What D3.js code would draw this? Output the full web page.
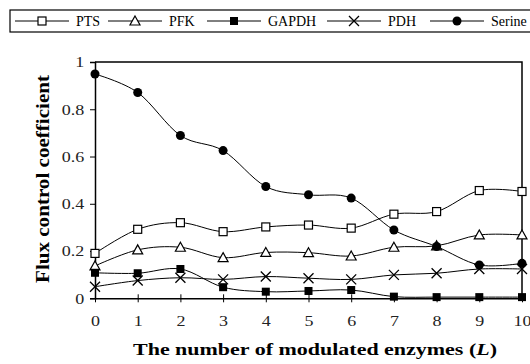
<!DOCTYPE html>
<html>
<head>
<meta charset="utf-8">
<script src="https://cdn.jsdelivr.net/npm/d3@7"></script>
<style>
  body { margin: 0; background: #fff; }
  text { font-family: "Liberation Serif", "Times New Roman", serif; }
</style>
</head>
<body>
<script>
var steps = [0, 1, 2, 3, 4, 5, 6, 7, 8, 9, 10];
var pts    = [0.19, 0.292, 0.32, 0.282, 0.302, 0.31, 0.297, 0.356, 0.367, 0.456, 0.452];
var pfk    = [0.137, 0.205, 0.216, 0.172, 0.194, 0.193, 0.179, 0.216, 0.222, 0.268, 0.268];
var gapdh  = [0.108, 0.106, 0.124, 0.047, 0.028, 0.031, 0.035, 0.007, 0.005, 0.005, 0.005];
var pdh    = [0.049, 0.075, 0.087, 0.08, 0.092, 0.085, 0.08, 0.099, 0.106, 0.124, 0.124];
var serine = [0.949, 0.871, 0.689, 0.625, 0.473, 0.438, 0.424, 0.289, 0.219, 0.141, 0.148];
var yTicks = [0, 0.2, 0.4, 0.6, 0.8, 1];

var series = [
  {name: "PTS", values: pts, marker: "openSquare"},
  {name: "PFK", values: pfk, marker: "openTriangle"},
  {name: "GAPDH", values: gapdh, marker: "filledSquare"},
  {name: "PDH", values: pdh, marker: "cross"},
  {name: "Serine", values: serine, marker: "filledCircle"}
];

var w = 530, h = 364;
var plotL = 95, plotR = 522, plotT = 62, plotB = 298.3;

var svg = d3.select("body").append("svg")
  .attr("width", w)
  .attr("height", h);

var x = d3.scaleLinear().domain([0, 10]).range([plotL, plotR]);
var y = d3.scaleLinear().domain([0, 1]).range([plotB, plotT]);

// frame (top and right)
svg.append("path")
  .attr("d", "M" + plotL + "," + plotT + "H" + plotR + "V" + plotB)
  .attr("fill", "none")
  .attr("stroke", "#000")
  .attr("stroke-width", 1.5);

function drawMarker(g, type, cx, cy) {
  if (type == "openSquare") {
    g.append("rect").attr("x", cx - 4).attr("y", cy - 4).attr("width", 8).attr("height", 8)
      .attr("fill", "#fff").attr("stroke", "#000").attr("stroke-width", 1.2);
  } else if (type == "filledSquare") {
    g.append("rect").attr("x", cx - 4).attr("y", cy - 4).attr("width", 8).attr("height", 8)
      .attr("fill", "#000");
  } else if (type == "openTriangle") {
    g.append("path").attr("d", "M" + cx + "," + (cy - 5) + "L" + (cx + 5) + "," + (cy + 4) + "L" + (cx - 5) + "," + (cy + 4) + "Z")
      .attr("fill", "#fff").attr("stroke", "#000").attr("stroke-width", 1.2);
  } else if (type == "cross") {
    g.append("path").attr("d", "M" + (cx - 5) + "," + (cy - 5) + "L" + (cx + 5) + "," + (cy + 5) + "M" + (cx + 5) + "," + (cy - 5) + "L" + (cx - 5) + "," + (cy + 5))
      .attr("stroke", "#000").attr("stroke-width", 1.3);
  } else {
    g.append("circle").attr("cx", cx).attr("cy", cy).attr("r", 4.5).attr("fill", "#000");
  }
}

var line = d3.line()
  .x(function(d, i) { return x(steps[i]); })
  .y(function(d) { return y(d); })
  .curve(d3.curveCardinal.tension(0));

series.forEach(function(s) {
  svg.append("path")
    .attr("d", line(s.values))
    .attr("fill", "none")
    .attr("stroke", "#000")
    .attr("stroke-width", 1);
});

// y axis
var yAxis = svg.append("g")
  .attr("transform", "translate(" + plotL + ",0)")
  .call(d3.axisLeft(y).tickValues(yTicks).tickSize(5).tickPadding(0)
    .tickFormat(function(d) { return d; }));
yAxis.select(".domain").attr("stroke-width", 1.5);
yAxis.selectAll("text")
  .attr("x", -9)
  .attr("transform", "scale(1.2,1)")
  .attr("font-size", 15).attr("font-family", "Liberation Serif").attr("fill", "#222");

// x axis, ticks cross the line
var xAxis = svg.append("g")
  .attr("transform", "translate(0," + plotB + ")")
  .call(d3.axisBottom(x).tickValues(steps).tickSizeInner(4).tickSizeOuter(0).tickPadding(0));
xAxis.select(".domain").attr("stroke-width", 1.5);
xAxis.selectAll(".tick line").attr("y1", -4);
xAxis.selectAll("text")
  .attr("y", 28).attr("dy", null)
  .attr("transform", "scale(1.2,1)")
  .attr("font-size", 15).attr("font-family", "Liberation Serif").attr("fill", "#222");

series.forEach(function(s) {
  var g = svg.append("g");
  s.values.forEach(function(v, i) {
    drawMarker(g, s.marker, x(steps[i]), y(v));
  });
});

// axis titles
svg.append("text")
  .attr("transform", "translate(49,179) rotate(-90)")
  .attr("text-anchor", "middle")
  .attr("font-size", 18)
  .attr("font-weight", "bold")
  .attr("textLength", 208)
  .attr("lengthAdjust", "spacingAndGlyphs")
  .text("Flux control coefficient");

var xt = svg.append("text")
  .attr("x", 315)
  .attr("y", 355)
  .attr("text-anchor", "middle")
  .attr("font-size", 17)
  .attr("font-weight", "bold")
  .attr("textLength", 364)
  .attr("lengthAdjust", "spacingAndGlyphs");
xt.append("tspan").text("The number of modulated enzymes (");
xt.append("tspan").attr("font-style", "italic").text("L");
xt.append("tspan").text(")");

// legend
svg.append("rect")
  .attr("x", 10).attr("y", 10)
  .attr("width", 530).attr("height", 22)
  .attr("fill", "#fff").attr("stroke", "#000").attr("stroke-width", 1.2);

var legendX = [15, 108, 207, 327, 430];
series.forEach(function(s, i) {
  var g = svg.append("g");
  var x0 = legendX[i], ly = 21;
  g.append("line").attr("x1", x0).attr("x2", x0 + 54).attr("y1", ly).attr("y2", ly)
    .attr("stroke", "#000").attr("stroke-width", 1);
  drawMarker(g, s.marker, x0 + 27, ly);
  g.append("text").attr("x", x0 + 61).attr("y", ly + 4.5)
    .attr("font-size", 14).text(s.name);
});
</script>
</body>
</html>
